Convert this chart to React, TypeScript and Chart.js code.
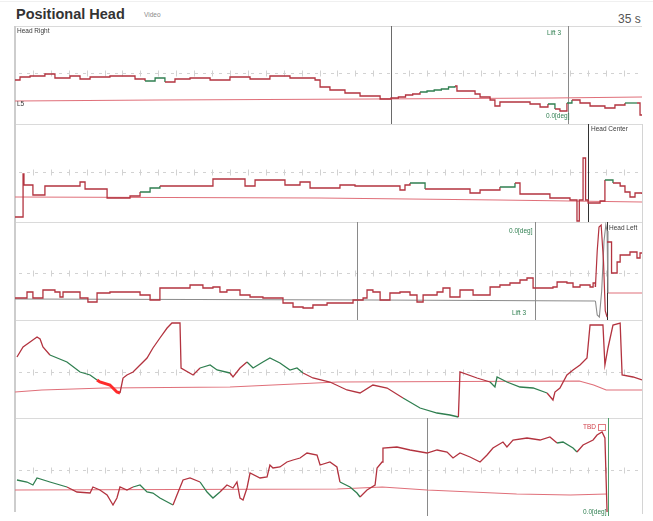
import React, { useEffect, useRef } from "react";
import { Chart, registerables } from "chart.js";

Chart.register(...registerables);

// Recording length in seconds
const DURATION = 35;

type Pair = [number, number];

const TRACE = "#b3333f";
const GREEN = "#2f7f50";
const BASE = "#e0707a";
const ACCENT = "#ff2a2a";
const GREY_BASE = "#8c8c8c";

// ---- Head Right (L5) ----
const rightTrace: Pair[] = [
  [0, -5], [0.28, -2], [0.84, -1], [1.67, 1], [2.23, -3], [3.07, -1], [3.63, -4], [4.19, -2],
  [5.3, -1], [6.7, -4], [7.26, -6], [7.82, -3], [8.37, -7], [8.93, -4], [9.77, -3], [10.89, -5],
  [12.0, -2], [13.12, -4], [14.23, -1], [15.35, -3], [16.75, -5], [17.03, -12], [17.58, -15],
  [18.42, -18], [19.26, -21], [20.38, -24], [20.99, -23], [21.4, -22], [21.8, -20], [22.2, -19],
  [22.61, -17], [23.0, -16], [23.4, -15], [23.8, -14], [24.2, -12], [24.56, -11], [24.67, -16],
  [25.68, -19], [25.96, -22], [26.52, -25], [26.79, -31], [27.07, -27], [28.75, -29], [29.31, -32],
  [29.75, -29], [30.14, -34], [30.42, -36], [30.81, -28], [31.09, -25], [31.54, -28], [32.1, -31],
  [32.93, -33], [33.49, -30], [34.05, -28], [34.72, -28], [34.89, -40], [35, -40],
];
const rightBase: Pair[] = [[0, -26], [8, -25], [20, -24], [30, -23], [35, -22]];
const rightGreen: Pair[] = [[7.2, 8.3], [22.6, 24.6], [29.9, 30.2], [30.7, 31.1], [33.8, 34.7]];
const rightEvents = [20.99, 30.87];

// ---- Head Center ----
const centerTrace: Pair[] = [
  [0, -44], [0.45, -1], [0.5, -12], [1.0, -22], [1.67, -13], [3.63, -9], [3.91, -16], [5.14, -25],
  [6.42, -23], [6.98, -19], [7.54, -15], [8.09, -13], [11.05, -6], [12.84, -13], [13.4, -7],
  [15.07, -12], [15.91, -9], [16.47, -15], [18.14, -12], [18.98, -13], [21.49, -17], [21.77, -12],
  [22.05, -10], [22.89, -16], [25.4, -20], [25.96, -17], [27.07, -14], [27.91, -10], [28.19, -21],
  [29.86, -25], [30.98, -27], [31.37, -48], [31.5, -27], [31.71, 15], [31.85, -27], [31.99, -30],
  [32.66, -28], [32.93, -7], [33.38, -10], [33.78, -13], [34.05, -19], [34.33, -24], [34.61, -20],
  [35, -21],
];
const centerBase: Pair[] = [[0, -24], [17, -25], [27, -27], [35, -29]];
const centerGreen: Pair[] = [[7.0, 8.5], [22.0, 22.9], [27.0, 27.9], [33.0, 33.4]];
const centerEvents = [31.99];

// ---- Head Left ----
const leftTrace: Pair[] = [
  [0, -27], [0.67, -21], [1.0, -27], [1.56, -19], [2.23, -21], [2.51, -26], [2.68, -21], [3.63, -27],
  [4.07, -31], [4.58, -22], [5.3, -21], [6.98, -24], [7.54, -29], [8.09, -17], [9.77, -14],
  [10.49, -17], [11.05, -16], [11.44, -21], [11.83, -19], [12.56, -24], [13.12, -26], [13.84, -27],
  [14.96, -32], [15.52, -36], [16.08, -37], [16.63, -34], [17.42, -32], [18.87, -29], [19.43, -27],
  [19.65, -19], [19.98, -21], [20.38, -29], [20.93, -22], [21.49, -21], [22.05, -24], [22.44, -31],
  [22.78, -24], [23.56, -21], [23.89, -17], [24.28, -26], [24.84, -19], [25.57, -24], [26.52, -16],
  [27.07, -14], [27.63, -12], [28.19, -9], [28.58, -7], [28.92, -17], [30.03, -16], [30.26, -11],
  [30.81, -12], [31.15, -16], [31.54, -14], [32.1, -16], [32.27, -12], [32.4, -16],
];
const leftSwing: Pair[] = [
  [32.4, -16], [32.5, 20], [32.6, 44], [32.72, 46], [32.85, 10], [32.95, -40], [33.05, -46],
];
const leftAfter: Pair[] = [
  [33.05, 29], [33.3, -2], [33.61, 9], [33.78, 16], [34.33, 19], [34.72, 13], [34.89, 18], [35, 18],
];
const leftBase: Pair[] = [[0, -28], [20, -29], [32.4, -30]];
const leftBaseSwing: Pair[] = [
  [32.4, -30], [32.5, -44], [32.62, -46], [32.75, -20], [32.88, 30], [32.98, 46], [33.05, 40], [33.1, -22],
];
const leftBaseAfter: Pair[] = [[33.1, -22], [35, -22]];
const leftEvents = [19.09, 29.03, 33.05];

// ---- Flexion ----
const flexTrace: Pair[] = [
  [0.11, 12], [0.45, 22], [0.84, 27], [1.23, 32], [1.4, 30], [1.56, 22], [1.95, 14], [2.9, 7],
  [3.63, -3], [4.19, -6], [4.58, -11], [4.74, -13], [5.3, -16], [5.69, -23], [5.86, -24], [6.03, -9],
  [6.25, -6], [6.59, -3], [6.98, 4], [7.37, 11], [7.7, 21], [8.09, 31], [8.49, 41], [8.76, 46],
  [9.21, 46], [9.27, 1], [9.94, -6], [10.33, 1], [10.89, 4], [11.28, -1], [12.0, -4], [12.17, -8],
  [12.56, 1], [12.95, 7], [13.29, 1], [13.84, 7], [14.23, 11], [14.79, 6], [15.35, -1], [15.74, 1],
  [16.08, -4], [16.63, -9], [17.58, -13], [18.53, -21], [19.26, -24], [19.98, -16], [20.77, -19],
  [21.66, -29], [22.61, -39], [23.56, -44], [24.28, -46], [24.75, -48], [24.84, -3], [25.79, -9],
  [26.52, -13], [26.79, -18], [26.91, -8], [27.46, -13], [28.19, -18], [28.92, -19], [29.7, -24],
  [30.03, -31], [30.14, -23], [30.42, -19], [30.81, -6], [31.15, -1], [31.54, 4], [31.93, 11],
  [32.1, 44], [32.82, 44], [32.93, 4], [33.1, 21], [33.38, 44], [33.78, 46], [33.89, -6],
  [34.5, -8], [35, -11],
];
const flexBase: Pair[] = [
  [0, -23], [1.5, -21], [5, -19], [12, -18], [18, -13], [31.5, -12], [32.3, -16], [33, -21], [35, -21],
];
const flexGreen: Pair[] = [[1.8, 4.6], [10.3, 12.0], [13.0, 16.0], [21.4, 24.7], [26.5, 29.8]];
const flexAccent: Pair[] = [[4.6, 5.9]];
const flexEvents: number[] = [];

// ---- Rotation ----
const rotTrace: Pair[] = [
  [0.11, -13], [0.67, -15], [1.0, -18], [1.23, -11], [1.95, -15], [2.9, -20], [3.46, -25],
  [4.19, -26], [4.35, -20], [4.74, -23], [5.14, -28], [5.47, -38], [5.69, -31], [5.86, -20],
  [6.25, -23], [6.59, -20], [6.98, -18], [7.37, -25], [7.7, -26], [8.09, -31], [8.82, -38],
  [9.04, -28], [9.38, -13], [9.77, -11], [10.33, -15], [10.72, -25], [11.05, -31], [11.44, -25],
  [11.83, -18], [12.17, -21], [12.39, -15], [12.56, -31], [12.73, -33], [12.95, -21], [13.12, -6],
  [13.68, -11], [14.07, -10], [14.23, 2], [14.4, -1], [14.79, 0], [15.18, 5], [15.52, 7],
  [15.91, 9], [16.3, 14], [16.86, 12], [17.03, 2], [17.58, 5], [17.97, 0], [18.14, -15],
  [18.7, -20], [19.09, -26], [19.26, -30], [19.65, -23], [20.1, -18], [20.21, -1], [20.49, 5],
  [20.54, 19], [21.32, 20], [22.05, 17], [23.0, 14], [23.56, 17], [24.12, 15], [24.45, 9],
  [24.84, 14], [25.4, 10], [25.96, 5], [26.35, 12], [26.68, 19], [27.24, 25], [27.46, 20],
  [27.8, 27], [28.58, 29], [29.31, 27], [29.86, 30], [30.26, 24], [30.59, 25], [31.15, 19],
  [31.37, 15], [31.71, 22], [32.27, 27], [32.49, 32], [32.77, 35], [32.93, 29], [33.05, -45],
];
const rotBase: Pair[] = [[0, -23], [18, -22], [20.5, -20], [23, -23], [28, -27], [31, -28], [33.05, -27]];
const rotGreen: Pair[] = [[0, 2.9], [6.6, 8.8], [10.3, 11.4], [18.1, 19.3], [30.3, 31.4]];
const rotEvents = [23.0, 33.08];

// Reference level of each panel's dashed guide
const guideLevels = [2, 1, -2, -3, -3];

interface Series {
  points: Pair[];
  color: string;
  width: number;
  stepped?: boolean;
  green?: Pair[];
  accent?: Pair[];
}
interface Marker { t: number; color: string }
interface PanelSpec { series: Series[]; guide: number; markers: Marker[] }

const tint = (list: number[], color: string): Marker[] => list.map((t) => ({ t, color }));

const panels: PanelSpec[] = [
  {
    guide: guideLevels[0],
    markers: [...tint(rightEvents.slice(0, 1), "#6a6a6a"), ...tint(rightEvents.slice(1), "#8a8a8a")],
    series: [
      { points: rightTrace, color: TRACE, width: 1.3, stepped: true, green: rightGreen },
      { points: rightBase, color: BASE, width: 1.2 },
    ],
  },
  {
    guide: guideLevels[1],
    markers: tint(centerEvents, "#333333"),
    series: [
      { points: centerTrace, color: TRACE, width: 1.3, stepped: true, green: centerGreen },
      { points: centerBase, color: BASE, width: 1.2 },
    ],
  },
  {
    guide: guideLevels[2],
    markers: [...tint(leftEvents.slice(0, 2), "#8a8a8a"), ...tint(leftEvents.slice(2), "#333333")],
    series: [
      { points: leftTrace, color: TRACE, width: 1.3, stepped: true },
      { points: leftSwing, color: TRACE, width: 1.2 },
      { points: leftAfter, color: TRACE, width: 1.3, stepped: true },
      { points: leftBase, color: GREY_BASE, width: 1.2 },
      { points: leftBaseSwing, color: GREY_BASE, width: 1.1 },
      { points: leftBaseAfter, color: BASE, width: 1.2 },
    ],
  },
  {
    guide: guideLevels[3],
    markers: tint(flexEvents, "#8a8a8a"),
    series: [
      { points: flexTrace, color: TRACE, width: 1.3, green: flexGreen, accent: flexAccent },
      { points: flexBase, color: BASE, width: 1.2 },
    ],
  },
  {
    guide: guideLevels[4],
    markers: [...tint(rotEvents.slice(0, 1), "#8a8a8a"), ...tint(rotEvents.slice(1), "#4f9e6c")],
    series: [
      { points: rotTrace, color: TRACE, width: 1.3, green: rotGreen },
      { points: rotBase, color: BASE, width: 1.2 },
    ],
  },
];

const within = (a: number, b: number, ranges?: Pair[]) => {
  if (!ranges) return false;
  const m = (a + b) / 2;
  return ranges.some(([s, e]) => m >= s && m <= e);
};

const PANEL_TOP = 26;
const PANEL_H = 98;
const LEFT = 15;
const WIDTH = 627;

function Panel({ spec, index }: { spec: PanelSpec; index: number }) {
  const ref = useRef<HTMLCanvasElement | null>(null);

  useEffect(() => {
    if (!ref.current) return;
    const guides = {
      id: "panelGuides",
      beforeDatasetsDraw(chart: any) {
        const { ctx, chartArea, scales } = chart;
        const x = scales.x;
        const y = scales.y;
        const yy = Math.round(y.getPixelForValue(spec.guide)) + 0.5;
        ctx.save();
        ctx.lineWidth = 1;
        ctx.strokeStyle = "#d2d2d2";
        ctx.setLineDash([3, 5]);
        ctx.beginPath();
        ctx.moveTo(chartArea.left + 4, yy);
        ctx.lineTo(chartArea.right - 2, yy);
        ctx.stroke();
        ctx.setLineDash([]);
        ctx.beginPath();
        for (let t = 1; t < DURATION; t++) {
          const px = Math.round(x.getPixelForValue(t)) + 0.5;
          ctx.moveTo(px, yy - 3);
          ctx.lineTo(px, yy + 3);
        }
        ctx.stroke();
        for (const m of spec.markers) {
          const px = Math.round(x.getPixelForValue(m.t)) + 0.5;
          ctx.strokeStyle = m.color;
          ctx.lineWidth = 1;
          ctx.beginPath();
          ctx.moveTo(px, chartArea.top);
          ctx.lineTo(px, chartArea.bottom);
          ctx.stroke();
        }
        ctx.restore();
      },
    };

    const chart = new Chart(ref.current, {
      type: "line",
      data: {
        datasets: spec.series.map((s) => ({
          data: s.points.map(([x, y]) => ({ x, y })),
          borderColor: s.color,
          borderWidth: s.width,
          stepped: s.stepped ? true : false,
          pointRadius: 0,
          fill: false,
          tension: 0,
          segment: {
            borderColor: (ctx: any) => {
              if (within(ctx.p0.parsed.x, ctx.p1.parsed.x, s.accent)) return ACCENT;
              if (within(ctx.p0.parsed.x, ctx.p1.parsed.x, s.green)) return GREEN;
              return undefined;
            },
            borderWidth: (ctx: any) =>
              within(ctx.p0.parsed.x, ctx.p1.parsed.x, s.accent) ? 3 : undefined,
          },
        })),
      },
      options: {
        animation: false,
        responsive: false,
        maintainAspectRatio: false,
        devicePixelRatio: 1,
        events: [],
        layout: { padding: 0 },
        plugins: { legend: { display: false }, tooltip: { enabled: false } },
        scales: {
          x: { type: "linear", min: 0, max: DURATION, display: false },
          y: { min: -49, max: 49, display: false },
        },
      },
      plugins: [guides],
    } as any);
    return () => chart.destroy();
  }, [spec]);

  return (
    <canvas
      ref={ref}
      width={WIDTH}
      height={PANEL_H}
      style={{
        position: "absolute",
        left: LEFT,
        top: PANEL_TOP + index * PANEL_H,
        width: WIDTH,
        height: PANEL_H,
        display: "block",
      }}
    />
  );
}

const small = (
  text: string,
  left: number,
  top: number,
  color = "#3a3a3a"
): React.ReactNode => (
  <div
    key={`${text}-${left}-${top}`}
    style={{
      position: "absolute",
      left,
      top,
      fontSize: 6.5,
      lineHeight: 1,
      color,
      whiteSpace: "nowrap",
    }}
  >
    {text}
  </div>
);

export default function App() {
  const seps = [0, 1, 2, 3, 4];
  return (
    <div
      style={{
        position: "fixed",
        left: 0,
        top: 0,
        width: 653,
        height: 521,
        background: "#ffffff",
        overflow: "hidden",
        fontFamily: '"Liberation Sans", Arial, sans-serif',
      }}
    >
      <div style={{ position: "absolute", left: 0, top: 1, width: 653, height: 1, background: "#f0f0f0" }} />
      <div
        style={{
          position: "absolute",
          left: 16,
          top: 7,
          fontSize: 14.5,
          fontWeight: 700,
          lineHeight: 1,
          color: "#333",
          whiteSpace: "nowrap",
        }}
      >
        Positional Head
      </div>
      {small("Video", 144, 12, "#8a8a8a")}
      <div
        style={{
          position: "absolute",
          left: 618,
          top: 13,
          fontSize: 12,
          lineHeight: 1,
          color: "#555",
          whiteSpace: "nowrap",
        }}
      >
        35 s
      </div>

      {seps.map((i) => (
        <div
          key={`sep-${i}`}
          style={{
            position: "absolute",
            left: LEFT,
            top: PANEL_TOP + i * PANEL_H,
            width: WIDTH,
            height: 1,
            background: "#dadada",
          }}
        />
      ))}
      <div style={{ position: "absolute", left: 14, top: PANEL_TOP, width: 2, height: 5 * PANEL_H - 4, background: "#cdcdcd" }} />
      <div style={{ position: "absolute", left: 642, top: PANEL_TOP + PANEL_H, width: 1, height: 4 * PANEL_H - 2, background: "#d4d4d4" }} />

      {panels.map((p, i) => (
        <Panel key={i} spec={p} index={i} />
      ))}

      {small("Head Right", 17, 28)}
      {small("L5", 17, 101)}
      {small("Lift 3", 547, 30, GREEN)}
      {small("0.0[deg]", 546, 113, GREEN)}
      {small("Head Center", 591, 126)}
      {small("0.0[deg]", 509, 228, GREEN)}
      {small("Lift 3", 512, 310, GREEN)}
      {small("Head Left", 609, 225)}
      {small("TBD", 583, 424, "#d0404a")}
      <div style={{ position: "absolute", left: 598, top: 424, width: 6, height: 5, border: "1px solid #e07a80" }} />
      {small("0.0[deg]", 583, 509, GREEN)}
    </div>
  );
}
